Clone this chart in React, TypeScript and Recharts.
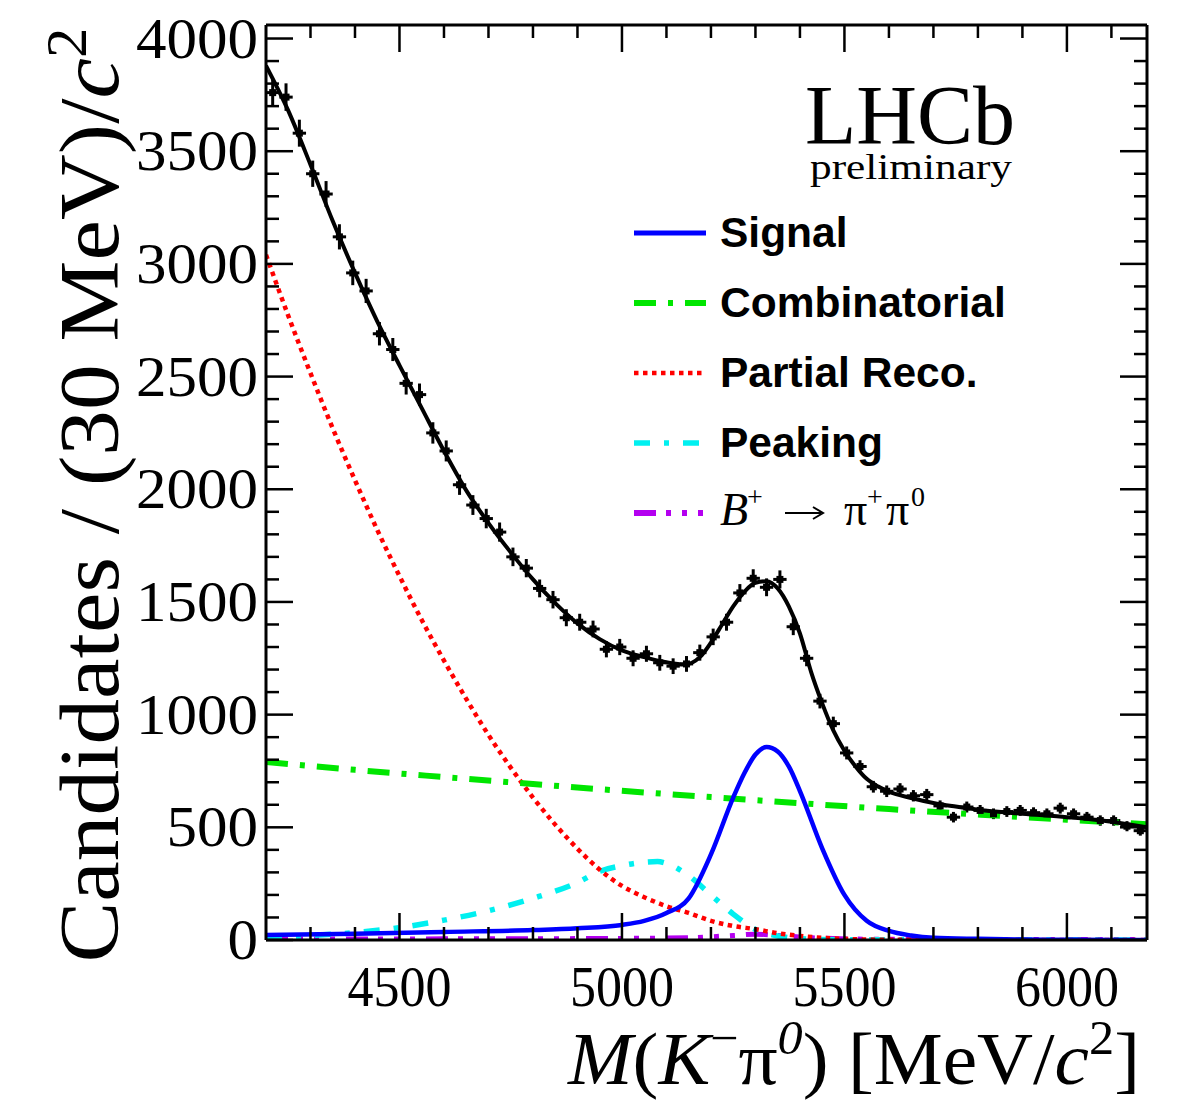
import React from "react";
import { ComposedChart, Line, Scatter, ErrorBar, XAxis, YAxis } from "recharts";

// data histogram, 30 MeV bins
const binCenters = [
  4215, 4245, 4275, 4305, 4335, 4365, 4395, 4425, 4455, 4485, 4515, 4545, 4575, 4605, 4635, 4665,
  4695, 4725, 4755, 4785, 4815, 4845, 4875, 4905, 4935, 4965, 4995, 5025, 5055, 5085, 5115, 5145,
  5175, 5205, 5235, 5265, 5295, 5325, 5355, 5385, 5415, 5445, 5475, 5505, 5535, 5565, 5595, 5625,
  5655, 5685, 5715, 5745, 5775, 5805, 5835, 5865, 5895, 5925, 5955, 5985, 6015, 6045, 6075, 6105,
  6135, 6165,
];
const counts = [
  3760, 3740, 3580, 3400, 3310, 3120, 2960, 2880, 2690, 2620, 2470, 2420, 2250, 2170, 2020, 1930,
  1870, 1810, 1700, 1650, 1560, 1510, 1430, 1410, 1380, 1290, 1300, 1250, 1270, 1230, 1215, 1225,
  1275, 1345, 1410, 1540, 1605, 1565, 1600, 1390, 1250, 1060, 960, 830, 770, 680, 660, 670,
  640, 645, 595, 545, 590, 575, 560, 570, 575, 565, 560, 585, 560, 545, 530, 530,
  505, 485,
];

// fit components
const totalMass = [
  4200, 4250, 4300, 4350, 4400, 4450, 4500, 4550, 4600, 4650, 4700, 4750, 4800, 4850, 4900, 4950,
  5000, 5050, 5100, 5140, 5175, 5200, 5225, 5250, 5275, 5300, 5325, 5350, 5375, 5400, 5425, 5450,
  5475, 5500, 5525, 5550, 5575, 5600, 5650, 5700, 5750, 5800, 5900, 6000, 6100, 6180,
];
const totalVal = [
  3880, 3680, 3440, 3190, 2960, 2745, 2550, 2360, 2170, 1995, 1850, 1720, 1600, 1495, 1405, 1335,
  1285, 1255, 1232, 1222, 1255, 1320, 1400, 1480, 1545, 1585, 1592, 1560, 1480, 1360, 1190, 1050,
  930, 840, 770, 715, 682, 658, 630, 608, 592, 578, 560, 545, 525, 500,
];

const sigMass = [4200, 4400, 4600, 4800, 4900, 5000, 5050, 5100, 5150, 5200, 5250, 5275, 5300, 5325, 5350, 5375, 5400, 5450, 5500, 5550, 5600, 5650, 5700, 5800, 5900, 6000, 6180];
const sigVal = [22, 28, 36, 44, 52, 67, 85, 120, 185, 380, 632, 740, 823, 856, 836, 770, 661, 407, 200, 85, 40, 20, 10, 5, 2, 1, 0];

const combMass = [4200, 4400, 4600, 4800, 5000, 5200, 5400, 5600, 5800, 6000, 6180];
const combVal = [790, 755, 723, 692, 662, 634, 607, 581, 557, 534, 514];

const partMass = [4200, 4250, 4300, 4350, 4400, 4450, 4500, 4550, 4600, 4650, 4700, 4750, 4800, 4850, 4900, 4950, 5000, 5050, 5100, 5150, 5200, 5250, 5300, 5350, 5400, 5450, 5500, 5600, 6180];
const partVal = [3040, 2770, 2515, 2270, 2040, 1820, 1615, 1420, 1240, 1070, 910, 765, 632, 512, 405, 312, 240, 190, 150, 120, 85, 62, 48, 30, 18, 10, 5, 1, 0];

const peakMass = [4200, 4300, 4400, 4500, 4600, 4700, 4800, 4900, 4950, 5000, 5050, 5080, 5100, 5150, 5200, 5250, 5300, 5350, 5400, 5500, 6180];
const peakVal = [12, 20, 33, 55, 88, 130, 185, 255, 305, 330, 345, 348, 340, 285, 200, 115, 47, 18, 6, 1, 0];

const bpiMass = [4200, 4600, 5000, 5150, 5250, 5300, 5350, 5450, 5600, 6180];
const bpiVal = [4, 5, 7, 10, 20, 26, 20, 8, 3, 2];

const xTicks = [4300, 4400, 4500, 4600, 4700, 4800, 4900, 5000, 5100, 5200, 5300, 5400, 5500, 5600, 5700, 5800, 5900, 6000, 6100];
const yTicks = [
  0, 100, 200, 300, 400, 500, 600, 700, 800, 900, 1000, 1100, 1200, 1300, 1400, 1500, 1600, 1700,
  1800, 1900, 2000, 2100, 2200, 2300, 2400, 2500, 2600, 2700, 2800, 2900, 3000, 3100, 3200, 3300,
  3400, 3500, 3600, 3700, 3800, 3900, 4000,
];

const legendItems = [
  { key: "sig", label: "Signal", color: "#0000ff", dash: undefined, width: 5 },
  { key: "comb", label: "Combinatorial", color: "#00e600", dash: "22 12 5 12", width: 6 },
  { key: "part", label: "Partial Reco.", color: "#ff0000", dash: "4.5 4.5", width: 4.5 },
  { key: "peak", label: "Peaking", color: "#00f0f0", dash: "16 14 5 14", width: 5.5 },
  { key: "bpi", label: "", color: "#b400f0", dash: "22 10 5 11 5 11 5 11", width: 6 },
];

const toPoints = (xs: number[], ys: number[]) => xs.map((x, i) => ({ x, y: ys[i] }));

const histData = binCenters.map((x, i) => ({
  x,
  y: counts[i],
  ex: 15,
  ey: Math.sqrt(counts[i]),
}));

const SERIF = "'Liberation Serif', 'Times New Roman', serif";
const SANS = "'Liberation Sans', Arial, sans-serif";

function BottomTick(props: any) {
  const { x, y, payload } = props;
  const v = payload.value as number;
  const major = v % 500 === 0;
  return (
    <g>
      <line x1={x} x2={x} y1={y} y2={y - (major ? 27 : 13)} stroke="#000" strokeWidth={2.5} />
      {major && (
        <text x={x} y={y + 66} textAnchor="middle" fontFamily={SERIF} fontSize={58} fill="#000"
          textLength={104} lengthAdjust="spacingAndGlyphs">
          {v}
        </text>
      )}
    </g>
  );
}

function TopTick(props: any) {
  const { x, y, payload } = props;
  const major = (payload.value as number) % 500 === 0;
  return <line x1={x} x2={x} y1={y} y2={y + (major ? 27 : 13)} stroke="#000" strokeWidth={2.5} />;
}

function LeftTick(props: any) {
  const { x, y, payload } = props;
  const v = payload.value as number;
  const major = v % 500 === 0;
  const s = String(v);
  return (
    <g>
      <line x1={x} x2={x + (major ? 27 : 13)} y1={y} y2={y} stroke="#000" strokeWidth={2.5} />
      {major && (
        <text x={x - 8} y={y + 19} textAnchor="end" fontFamily={SERIF} fontSize={58} fill="#000"
          textLength={s.length * 30.5} lengthAdjust="spacingAndGlyphs">
          {s}
        </text>
      )}
    </g>
  );
}

function RightTick(props: any) {
  const { x, y, payload } = props;
  const major = (payload.value as number) % 500 === 0;
  return <line x1={x} x2={x - (major ? 27 : 13)} y1={y} y2={y} stroke="#000" strokeWidth={2.5} />;
}

function DataMarker(props: any) {
  const { cx, cy } = props;
  return <rect x={cx - 3.5} y={cy - 3.5} width={7} height={7} fill="#000" />;
}

const frame = { stroke: "#000", strokeWidth: 3 };

export default function App() {
  return (
    <div style={{ position: "absolute", left: 0, top: 0, width: 1184, height: 1102, background: "#fff" }}>
      <ComposedChart width={1184} height={1102} margin={{ top: 15, right: 27, bottom: 62, left: 166 }}>
        <XAxis type="number" dataKey="x" domain={[4200, 6180]} ticks={xTicks} interval={0}
          height={100} tickSize={0} tickMargin={0} tickLine={false} axisLine={frame}
          tick={(p: any) => <BottomTick {...p} />} allowDataOverflow />
        <XAxis xAxisId="top" orientation="top" type="number" dataKey="x" domain={[4200, 6180]}
          ticks={xTicks} interval={0} height={10} tickSize={0} tickMargin={0} tickLine={false}
          axisLine={frame} tick={(p: any) => <TopTick {...p} />} allowDataOverflow />
        <YAxis type="number" dataKey="y" domain={[0, 4060]} ticks={yTicks} interval={0}
          width={100} tickSize={0} tickMargin={0} tickLine={false} axisLine={frame}
          tick={(p: any) => <LeftTick {...p} />} allowDataOverflow />
        <YAxis yAxisId="right" orientation="right" type="number" dataKey="y" domain={[0, 4060]}
          ticks={yTicks} interval={0} width={10} tickSize={0} tickMargin={0} tickLine={false}
          axisLine={frame} tick={(p: any) => <RightTick {...p} />} allowDataOverflow />

        <Scatter data={histData} dataKey="y" shape={(p: any) => <DataMarker {...p} />} isAnimationActive={false}>
          <ErrorBar dataKey="ey" direction="y" width={0} stroke="#000" strokeWidth={3} />
          <ErrorBar dataKey="ex" direction="x" width={0} stroke="#000" strokeWidth={3} />
        </Scatter>

        <Line data={toPoints(bpiMass, bpiVal)} dataKey="y" type="monotone" stroke="#b400f0"
          strokeWidth={5} strokeDasharray="22 10 5 11 5 11 5 11" dot={false} isAnimationActive={false} />
        <Line data={toPoints(peakMass, peakVal)} dataKey="y" type="monotone" stroke="#00f0f0"
          strokeWidth={5.5} strokeDasharray="16 14 5 14" dot={false} isAnimationActive={false} />
        <Line data={toPoints(partMass, partVal)} dataKey="y" type="monotone" stroke="#ff0000"
          strokeWidth={4.5} strokeDasharray="4.5 4.5" dot={false} isAnimationActive={false} />
        <Line data={toPoints(combMass, combVal)} dataKey="y" type="monotone" stroke="#00e600"
          strokeWidth={6} strokeDasharray="22 12 5 12" dot={false} isAnimationActive={false} />
        <Line data={toPoints(sigMass, sigVal)} dataKey="y" type="monotone" stroke="#0000ff"
          strokeWidth={4.5} dot={false} isAnimationActive={false} />
        <Line data={toPoints(totalMass, totalVal)} dataKey="y" type="monotone" stroke="#000"
          strokeWidth={4} dot={false} isAnimationActive={false} />
      </ComposedChart>

      <svg width={1184} height={1102} style={{ position: "absolute", left: 0, top: 0, pointerEvents: "none" }}>
        {/* y axis title */}
        <text x={118} y={495} transform="rotate(-90 118 495)" textAnchor="middle" fontFamily={SERIF} fontSize={84} fill="#000"
          textLength={935} lengthAdjust="spacingAndGlyphs">
          Candidates / (30 MeV)/<tspan fontStyle="italic">c</tspan>
          <tspan dy={-32} fontSize={56}>2</tspan>
        </text>
        {/* x axis title */}
        <text x={1140} y={1084} textAnchor="end" fontFamily={SERIF} fontSize={74} fill="#000"
          textLength={572} lengthAdjust="spacingAndGlyphs">
          <tspan fontStyle="italic">M</tspan>(<tspan fontStyle="italic">K</tspan>
          <tspan dy={-30} fontSize={48}>−</tspan>
          <tspan dy={30}>π</tspan>
          <tspan dy={-30} fontSize={48} fontStyle="italic">0</tspan>
          <tspan dy={30}>) [MeV/</tspan>
          <tspan fontStyle="italic">c</tspan>
          <tspan dy={-30} fontSize={48}>2</tspan>
          <tspan dy={30}>]</tspan>
        </text>
        {/* LHCb label */}
        <text x={805} y={144} fontFamily={SERIF} fontSize={84} fill="#000">LHCb</text>
        <text x={810} y={179} fontFamily={SERIF} fontSize={36} fill="#000" textLength={202} lengthAdjust="spacingAndGlyphs">
          preliminary
        </text>
        {/* legend */}
        {legendItems.map((it, i) => {
          const cy = 233 + i * 70;
          return (
            <g key={it.key}>
              <line x1={634} x2={706} y1={cy} y2={cy} stroke={it.color} strokeWidth={it.width} strokeDasharray={it.dash} />
              {it.label && (
                <text x={720} y={cy + 14} fontFamily={SANS} fontWeight="bold" fontSize={42.5} fill="#000">
                  {it.label}
                </text>
              )}
            </g>
          );
        })}
        {/* B+ -> pi+ pi0 legend label */}
        <g fontFamily={SERIF} fill="#000">
          <text x={720} y={525} fontSize={46} fontStyle="italic">B</text>
          <text x={747} y={506} fontSize={28}>+</text>
          <line x1={785} x2={821} y1={513} y2={513} stroke="#000" strokeWidth={2} />
          <path d="M813,507 L823,513 L813,519" fill="none" stroke="#000" strokeWidth={2} />
          <text x={844} y={525} fontSize={46}>π</text>
          <text x={867} y={506} fontSize={28}>+</text>
          <text x={886} y={525} fontSize={46}>π</text>
          <text x={911} y={506} fontSize={28}>0</text>
        </g>
      </svg>
    </div>
  );
}
